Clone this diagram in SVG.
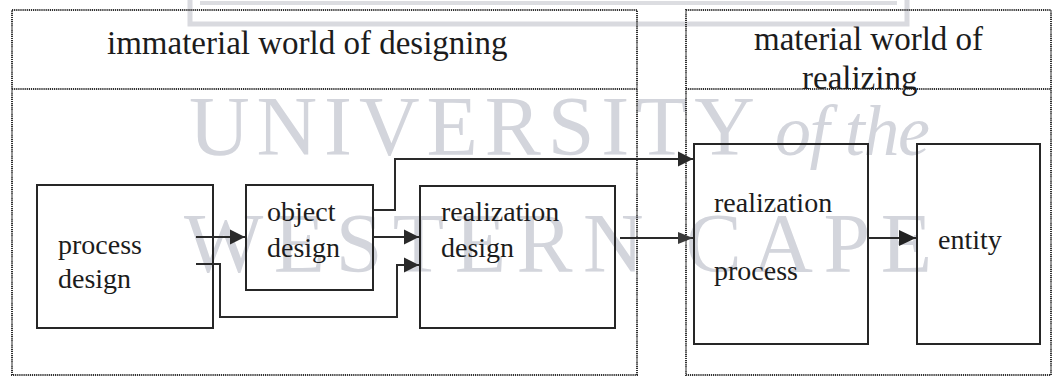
<svg xmlns="http://www.w3.org/2000/svg" width="1054" height="378" viewBox="0 0 1054 378">
  <defs>
    <style>
      .wm { fill: #d3d5dc; font-family: "Liberation Serif", serif; }
      .frame { fill: none; stroke: #2e2e2e; stroke-width: 2; stroke-dasharray: 1.2 0.9; }
      .box { fill: none; stroke: #262626; stroke-width: 2; }
      .lbl { fill: #1c1c1c; font-family: "Liberation Serif", "Times New Roman", serif; font-size: 28px; }
      .title { fill: #1c1c1c; font-family: "Liberation Serif", "Times New Roman", serif; font-size: 33px; }
      .conn { fill: none; stroke: #2a2a2a; stroke-width: 2; }
    </style>
    <marker id="ah" markerUnits="userSpaceOnUse" markerWidth="16" markerHeight="16" refX="15" refY="8" orient="auto">
      <path d="M0,0.5 L15,8 L0,15.5 Z" fill="#2a2a2a"/>
    </marker>
    <marker id="ahs" markerUnits="userSpaceOnUse" markerWidth="16" markerHeight="14" refX="15" refY="7" orient="auto">
      <path d="M0,1 L15,7 L0,13 Z" fill="#3a3a3a"/>
    </marker>
    <marker id="ahb" markerUnits="userSpaceOnUse" markerWidth="18" markerHeight="18" refX="17" refY="9" orient="auto">
      <path d="M0,1 L17,9 L0,17 Z" fill="#222"/>
    </marker>
  </defs>

  <rect width="1054" height="378" fill="#ffffff"/>

  <!-- watermark -->
  <g id="watermark">
    <path d="M190,0 V24 H907 V0" fill="none" stroke="#d9dadf" stroke-width="5"/>
    <path d="M200,3 H897" fill="none" stroke="#dcdde1" stroke-width="4"/>
    <text class="wm" x="189" y="155" font-size="84" textLength="566" lengthAdjust="spacing">UNIVERSITY</text>
    <text class="wm" x="775" y="155" font-size="72" font-style="italic" textLength="155" lengthAdjust="spacing">of the</text>
    <text class="wm" x="184" y="272" font-size="84" textLength="748" lengthAdjust="spacing">WESTERN CAPE</text>
  </g>

  <!-- world frames -->
  <g id="immaterial-world">
    <rect class="frame" x="12" y="10" width="625" height="365"/>
    <line class="frame" x1="12" y1="89" x2="637" y2="89"/>
    <text class="title" x="107" y="54">immaterial world of designing</text>
  </g>
  <g id="material-world">
    <rect class="frame" x="686" y="10" width="365" height="365"/>
    <line class="frame" x1="686" y1="89" x2="1051" y2="89"/>
    <text class="title" x="754" y="50">material world of</text>
    <text class="title" x="802" y="89">realizing</text>
  </g>

  <!-- nodes -->
  <g id="process-design">
    <rect class="box" x="37" y="185" width="176" height="143"/>
    <text class="lbl" x="58" y="254">process</text>
    <text class="lbl" x="58" y="288">design</text>
  </g>
  <g id="object-design">
    <rect class="box" x="246" y="185" width="127" height="105"/>
    <text class="lbl" x="267" y="221">object</text>
    <text class="lbl" x="267" y="257">design</text>
  </g>
  <g id="realization-design">
    <rect class="box" x="420" y="186" width="195" height="142"/>
    <text class="lbl" x="441" y="221">realization</text>
    <text class="lbl" x="441" y="257">design</text>
  </g>
  <g id="realization-process">
    <rect class="box" x="694" y="144" width="174" height="200"/>
    <text class="lbl" x="714" y="212">realization</text>
    <text class="lbl" x="714" y="280">process</text>
  </g>
  <g id="entity">
    <rect class="box" x="917" y="144" width="123" height="200"/>
    <text class="lbl" x="938" y="249">entity</text>
  </g>

  <!-- connectors -->
  <g id="connectors">
    <path class="conn" d="M196,237 H245" marker-end="url(#ah)"/>
    <path class="conn" d="M196,264 H220 V317 H397 V265 H419" marker-end="url(#ah)"/>
    <path class="conn" d="M372,237 H419" marker-end="url(#ah)"/>
    <path class="conn" d="M372,210 H395 V159 H693" marker-end="url(#ah)"/>
    <path class="conn" d="M620,238 H693" stroke-width="1.5" marker-end="url(#ahs)"/>
    <path class="conn" d="M868,238 H916" stroke-width="5" stroke="#222" marker-end="url(#ahb)"/>
  </g>
</svg>
